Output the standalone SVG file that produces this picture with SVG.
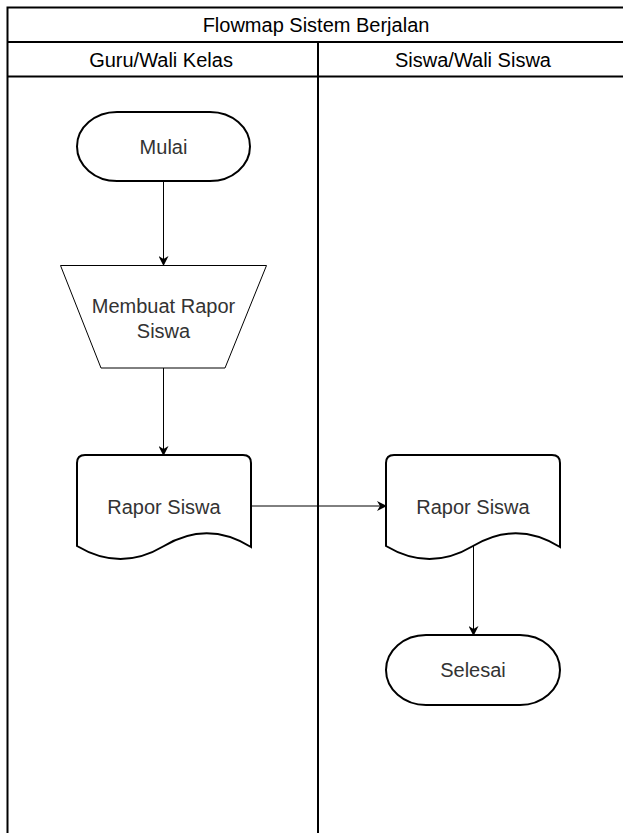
<svg xmlns="http://www.w3.org/2000/svg" width="623" height="833" viewBox="0 0 623 833">
<defs>
<style>
text{font-family:"Liberation Sans",Arial,sans-serif;font-size:20px;fill:#333;text-anchor:middle;dominant-baseline:central}
.hdr{fill:#000}
.lane{fill:#fff;stroke:#000;stroke-width:2}
.shp{fill:#fff;stroke:#000;stroke-width:2}
.thin{fill:#fff;stroke:#000;stroke-width:1}
.con{fill:none;stroke:#000;stroke-width:1}
</style>
<marker id="ah" markerWidth="10" markerHeight="10" refX="9" refY="5" orient="auto" markerUnits="userSpaceOnUse">
<path d="M0,0 L10,5 L0,10 L3,5 Z" fill="#000"/>
</marker>
</defs>
<rect width="623" height="833" fill="#fff"/>
<g id="pool">
<rect class="lane" x="7.5" y="7.5" width="620" height="840"/>
<line class="lane" x1="7.5" y1="42" x2="628" y2="42"/>
<line class="lane" x1="7.5" y1="76.5" x2="628" y2="76.5"/>
<line class="lane" x1="318" y1="42" x2="318" y2="840"/>
<text class="hdr" x="316" y="25">Flowmap Sistem Berjalan</text>
<text class="hdr" x="161" y="59.5">Guru/Wali Kelas</text>
<text class="hdr" x="473" y="59.5">Siswa/Wali Siswa</text>
</g>
<g id="connectors">
<line class="con" x1="163.5" y1="181" x2="163.5" y2="265" marker-end="url(#ah)"/>
<line class="con" x1="163.5" y1="368" x2="163.5" y2="455" marker-end="url(#ah)"/>
<line class="con" x1="251" y1="506" x2="386" y2="506" marker-end="url(#ah)"/>
<line class="con" x1="473.5" y1="546" x2="473.5" y2="635" marker-end="url(#ah)"/>
</g>
<g id="mulai">
<rect class="shp" x="77" y="112" width="173" height="69" rx="40" ry="34.5"/>
<text x="163.5" y="146.5">Mulai</text>
</g>
<g id="membuat">
<path class="thin" d="M60.5,265.5 L266.5,265.5 L225,368 L101,368 Z"/>
<text x="163.5" y="306">Membuat Rapor</text>
<text x="163.5" y="331">Siswa</text>
</g>
<g id="rapor1">
<path class="shp" d="M77,463 Q77,455 85,455 L243,455 Q251,455 251,463 L251,547 Q207.5,520 164,546 Q120.5,572 77,546 Z"/>
<text x="164" y="507">Rapor Siswa</text>
</g>
<g id="rapor2">
<path class="shp" d="M386,463 Q386,455 394,455 L552,455 Q560,455 560,463 L560,547 Q516.5,520 473,546 Q429.5,572 386,546 Z"/>
<text x="473" y="507">Rapor Siswa</text>
</g>
<g id="selesai">
<rect class="shp" x="386" y="635" width="174" height="70" rx="40" ry="35"/>
<text x="473" y="670">Selesai</text>
</g>
</svg>
